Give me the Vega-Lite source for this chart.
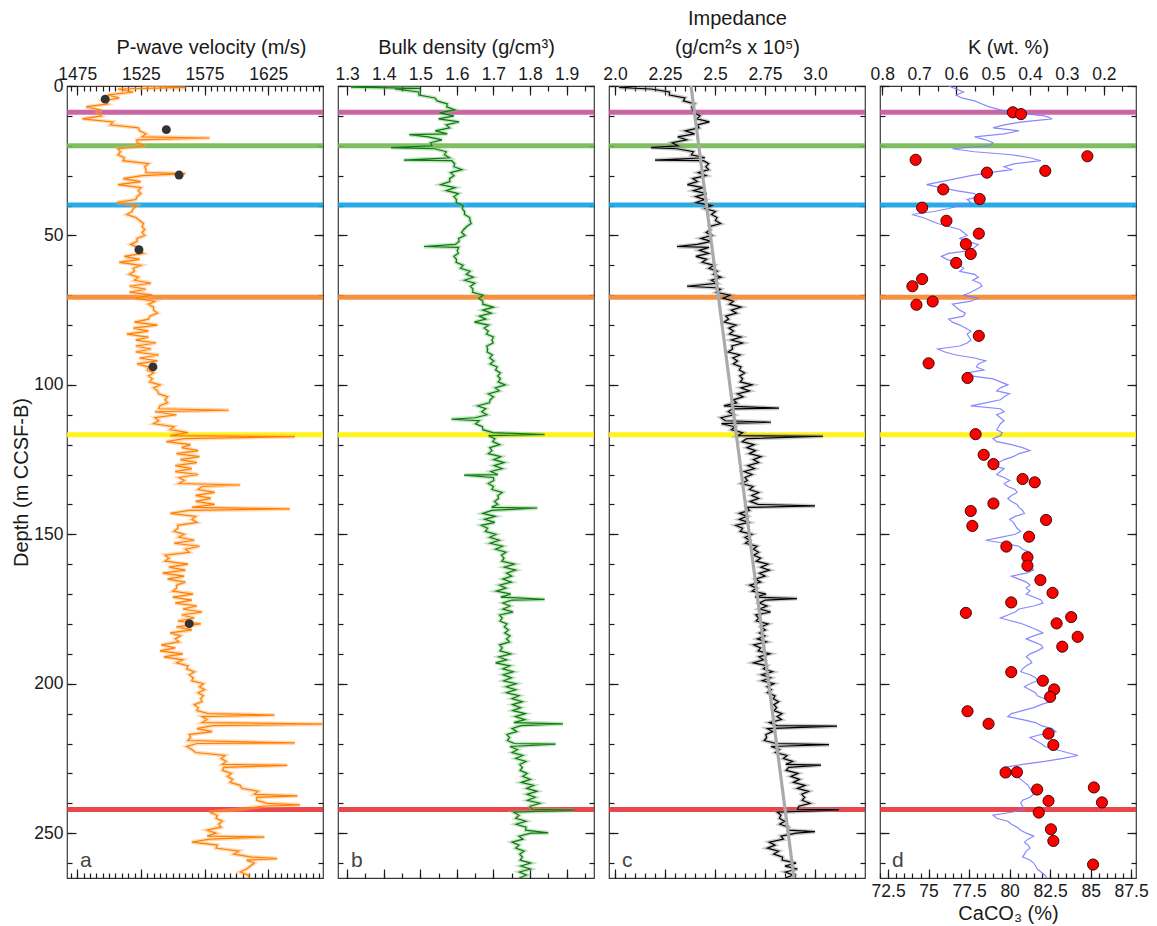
{
  "$schema": "https://vega.github.io/schema/vega-lite/v6.json",
  "padding": {"left": 11, "top": 7, "right": 5, "bottom": 5},
  "spacing": 15,
  "bounds": "flush",
  "config": {
    "font": "Liberation Sans",
    "view": {"stroke": "#3a3a3a", "strokeWidth": 1.2},
    "axis": {"domain": false, "grid": false, "labelFontSize": 17.5, "titleFontSize": 20, "titleFontWeight": "normal", "labelColor": "#1a1a1a", "titleColor": "#1a1a1a", "tickColor": "#1a1a1a", "tickWidth": 1.2, "labelFlush": false, "labelOverlap": false, "labelBound": false}
  },
  "datasets": {
    "bands": [{"d": 8.8, "h": "h1"}, {"d": 20, "h": "h2"}, {"d": 39.8, "h": "h3"}, {"d": 70.7, "h": "h4"}, {"d": 116.7, "h": "h5"}, {"d": 242.1, "h": "h6"}],
    "vp": [{"d":0,"v":1526},{"d":0.5,"v":1560},{"d":1,"v":1507},{"d":2,"v":1519},{"d":3,"v":1499},{"d":4,"v":1508},{"d":5,"v":1495},{"d":6,"v":1499},{"d":7,"v":1482},{"d":8,"v":1493},{"d":9,"v":1491},{"d":10,"v":1494},{"d":11,"v":1479},{"d":12,"v":1503},{"d":13,"v":1501},{"d":14,"v":1523},{"d":15,"v":1524},{"d":16,"v":1529},{"d":17,"v":1526},{"d":17.4,"v":1579},{"d":18,"v":1522},{"d":19,"v":1522},{"d":20,"v":1528},{"d":21,"v":1507},{"d":22,"v":1509},{"d":23,"v":1507},{"d":24,"v":1512},{"d":25,"v":1511},{"d":26,"v":1531},{"d":27,"v":1528},{"d":28,"v":1529},{"d":29,"v":1529},{"d":29.3,"v":1560},{"d":30,"v":1526},{"d":31,"v":1511},{"d":32,"v":1525},{"d":33,"v":1507},{"d":34,"v":1525},{"d":35,"v":1523},{"d":36,"v":1525},{"d":37,"v":1522},{"d":38,"v":1521},{"d":39,"v":1506},{"d":40,"v":1522},{"d":41,"v":1519},{"d":42,"v":1518},{"d":43,"v":1514},{"d":44,"v":1521},{"d":45,"v":1524},{"d":46,"v":1527},{"d":47,"v":1526},{"d":48,"v":1528},{"d":49,"v":1526},{"d":50,"v":1528},{"d":51,"v":1522},{"d":52,"v":1522},{"d":53,"v":1517},{"d":54,"v":1523},{"d":55,"v":1523},{"d":56,"v":1527},{"d":57,"v":1512},{"d":58,"v":1524},{"d":59,"v":1508},{"d":60,"v":1525},{"d":61,"v":1519},{"d":62,"v":1520},{"d":63,"v":1516},{"d":64,"v":1523},{"d":65,"v":1520},{"d":66,"v":1533},{"d":67,"v":1516},{"d":68,"v":1529},{"d":69,"v":1516},{"d":70,"v":1534},{"d":71,"v":1520},{"d":72,"v":1536},{"d":73,"v":1531},{"d":74,"v":1535},{"d":75,"v":1535},{"d":76,"v":1538},{"d":77,"v":1532},{"d":78,"v":1531},{"d":79,"v":1520},{"d":80,"v":1538},{"d":81,"v":1519},{"d":82,"v":1531},{"d":83,"v":1514},{"d":84,"v":1531},{"d":85,"v":1521},{"d":86,"v":1537},{"d":87,"v":1521},{"d":88,"v":1533},{"d":89,"v":1521},{"d":90,"v":1539},{"d":91,"v":1524},{"d":92,"v":1538},{"d":93,"v":1522},{"d":94,"v":1531},{"d":95,"v":1530},{"d":96,"v":1535},{"d":97,"v":1531},{"d":98,"v":1534},{"d":99,"v":1532},{"d":100,"v":1540},{"d":101,"v":1535},{"d":102,"v":1538},{"d":103,"v":1539},{"d":104,"v":1546},{"d":105,"v":1544},{"d":106,"v":1546},{"d":107,"v":1540},{"d":108,"v":1539},{"d":108.5,"v":1594},{"d":109,"v":1536},{"d":110,"v":1553},{"d":111,"v":1536},{"d":112,"v":1539},{"d":113,"v":1535},{"d":114,"v":1551},{"d":115,"v":1548},{"d":116,"v":1562},{"d":117,"v":1548},{"d":117.3,"v":1646},{"d":118,"v":1559},{"d":119,"v":1545},{"d":120,"v":1564},{"d":121,"v":1557},{"d":122,"v":1570},{"d":123,"v":1553},{"d":124,"v":1571},{"d":125,"v":1556},{"d":126,"v":1569},{"d":127,"v":1552},{"d":128,"v":1565},{"d":129,"v":1552},{"d":130,"v":1570},{"d":131,"v":1555},{"d":132,"v":1559},{"d":133,"v":1555},{"d":133.5,"v":1603},{"d":134,"v":1573},{"d":135,"v":1570},{"d":136,"v":1583},{"d":137,"v":1568},{"d":138,"v":1580},{"d":139,"v":1568},{"d":140,"v":1583},{"d":141,"v":1565},{"d":141.5,"v":1642},{"d":142,"v":1563},{"d":143,"v":1548},{"d":144,"v":1568},{"d":145,"v":1565},{"d":146,"v":1569},{"d":147,"v":1554},{"d":148,"v":1554},{"d":149,"v":1551},{"d":150,"v":1559},{"d":151,"v":1555},{"d":152,"v":1567},{"d":153,"v":1551},{"d":154,"v":1571},{"d":155,"v":1560},{"d":156,"v":1563},{"d":157,"v":1544},{"d":158,"v":1547},{"d":159,"v":1544},{"d":160,"v":1562},{"d":161,"v":1547},{"d":162,"v":1560},{"d":163,"v":1542},{"d":164,"v":1559},{"d":165,"v":1546},{"d":166,"v":1560},{"d":167,"v":1553},{"d":168,"v":1553},{"d":169,"v":1550},{"d":170,"v":1566},{"d":171,"v":1550},{"d":172,"v":1565},{"d":173,"v":1552},{"d":174,"v":1569},{"d":175,"v":1558},{"d":176,"v":1573},{"d":177,"v":1557},{"d":178,"v":1567},{"d":179,"v":1554},{"d":180,"v":1572},{"d":181,"v":1553},{"d":182,"v":1565},{"d":183,"v":1548},{"d":184,"v":1556},{"d":185,"v":1552},{"d":186,"v":1555},{"d":187,"v":1541},{"d":188,"v":1552},{"d":189,"v":1540},{"d":190,"v":1558},{"d":191,"v":1543},{"d":192,"v":1558},{"d":193,"v":1553},{"d":194,"v":1562},{"d":195,"v":1561},{"d":196,"v":1567},{"d":197,"v":1563},{"d":198,"v":1566},{"d":199,"v":1565},{"d":200,"v":1574},{"d":201,"v":1571},{"d":202,"v":1575},{"d":203,"v":1570},{"d":204,"v":1574},{"d":205,"v":1572},{"d":206,"v":1573},{"d":207,"v":1567},{"d":208,"v":1570},{"d":209,"v":1569},{"d":210,"v":1578},{"d":210.5,"v":1630},{"d":211,"v":1573},{"d":212,"v":1577},{"d":213,"v":1573},{"d":213.5,"v":1675},{"d":214,"v":1581},{"d":215,"v":1569},{"d":216,"v":1581},{"d":217,"v":1563},{"d":218,"v":1564},{"d":219,"v":1562},{"d":219.8,"v":1646},{"d":220,"v":1569},{"d":221,"v":1561},{"d":222,"v":1565},{"d":223,"v":1568},{"d":224,"v":1591},{"d":225,"v":1588},{"d":226,"v":1592},{"d":227,"v":1589},{"d":227.3,"v":1640},{"d":228,"v":1590},{"d":229,"v":1589},{"d":230,"v":1596},{"d":231,"v":1593},{"d":232,"v":1597},{"d":233,"v":1595},{"d":234,"v":1603},{"d":235,"v":1604},{"d":236,"v":1617},{"d":237,"v":1614},{"d":237.5,"v":1648},{"d":238,"v":1616},{"d":239,"v":1616},{"d":240,"v":1624},{"d":240.5,"v":1650},{"d":241,"v":1620},{"d":242,"v":1603},{"d":243,"v":1579},{"d":244,"v":1585},{"d":245,"v":1584},{"d":246,"v":1589},{"d":247,"v":1586},{"d":248,"v":1588},{"d":249,"v":1577},{"d":250,"v":1584},{"d":251,"v":1577},{"d":251.3,"v":1622},{"d":252,"v":1579},{"d":253,"v":1565},{"d":254,"v":1585},{"d":255,"v":1584},{"d":256,"v":1602},{"d":257,"v":1598},{"d":258,"v":1612},{"d":258.5,"v":1632},{"d":259,"v":1608},{"d":260,"v":1614},{"d":261,"v":1611},{"d":262,"v":1608},{"d":263,"v":1603},{"d":264,"v":1609},{"d":265,"v":1610}],
    "vpdots": [{"d":4.4,"v":1497},{"d":14.6,"v":1545},{"d":29.8,"v":1555},{"d":54.8,"v":1523.5},{"d":94,"v":1534.5},{"d":179.9,"v":1563}],
    "rho": [{"d":0,"v":1.392},{"d":0.4,"v":1.31},{"d":0.8,"v":1.5},{"d":1,"v":1.43},{"d":2,"v":1.496},{"d":3,"v":1.496},{"d":4,"v":1.54},{"d":5,"v":1.546},{"d":6,"v":1.574},{"d":7,"v":1.572},{"d":8,"v":1.594},{"d":9,"v":1.553},{"d":10,"v":1.592},{"d":11,"v":1.55},{"d":12,"v":1.606},{"d":13,"v":1.571},{"d":14,"v":1.58},{"d":15,"v":1.541},{"d":16,"v":1.574},{"d":16.3,"v":1.47},{"d":17,"v":1.522},{"d":18,"v":1.559},{"d":19,"v":1.528},{"d":20,"v":1.532},{"d":20.6,"v":1.42},{"d":21,"v":1.54},{"d":22,"v":1.571},{"d":23,"v":1.566},{"d":24,"v":1.58},{"d":24.8,"v":1.455},{"d":25,"v":1.586},{"d":26,"v":1.594},{"d":27,"v":1.592},{"d":28,"v":1.614},{"d":29,"v":1.583},{"d":30,"v":1.592},{"d":31,"v":1.58},{"d":32,"v":1.581},{"d":33,"v":1.556},{"d":34,"v":1.595},{"d":35,"v":1.571},{"d":36,"v":1.604},{"d":37,"v":1.592},{"d":38,"v":1.599},{"d":39,"v":1.598},{"d":40,"v":1.617},{"d":41,"v":1.615},{"d":42,"v":1.621},{"d":43,"v":1.621},{"d":44,"v":1.635},{"d":45,"v":1.636},{"d":46,"v":1.639},{"d":47,"v":1.627},{"d":48,"v":1.619},{"d":49,"v":1.613},{"d":50,"v":1.622},{"d":51,"v":1.605},{"d":52,"v":1.606},{"d":53,"v":1.596},{"d":53.7,"v":1.51},{"d":54,"v":1.605},{"d":55,"v":1.601},{"d":56,"v":1.604},{"d":57,"v":1.592},{"d":58,"v":1.599},{"d":59,"v":1.598},{"d":60,"v":1.617},{"d":61,"v":1.61},{"d":62,"v":1.636},{"d":63,"v":1.626},{"d":64,"v":1.645},{"d":65,"v":1.621},{"d":66,"v":1.649},{"d":67,"v":1.637},{"d":68,"v":1.644},{"d":69,"v":1.643},{"d":70,"v":1.672},{"d":71,"v":1.66},{"d":72,"v":1.671},{"d":73,"v":1.671},{"d":74,"v":1.7},{"d":75,"v":1.671},{"d":76,"v":1.694},{"d":77,"v":1.662},{"d":78,"v":1.679},{"d":79,"v":1.648},{"d":80,"v":1.687},{"d":81,"v":1.675},{"d":82,"v":1.686},{"d":83,"v":1.681},{"d":84,"v":1.7},{"d":85,"v":1.696},{"d":86,"v":1.699},{"d":87,"v":1.682},{"d":88,"v":1.684},{"d":89,"v":1.683},{"d":90,"v":1.697},{"d":91,"v":1.69},{"d":92,"v":1.701},{"d":93,"v":1.691},{"d":94,"v":1.71},{"d":95,"v":1.706},{"d":96,"v":1.719},{"d":97,"v":1.712},{"d":98,"v":1.719},{"d":99,"v":1.713},{"d":100,"v":1.732},{"d":101,"v":1.705},{"d":102,"v":1.716},{"d":103,"v":1.686},{"d":104,"v":1.7},{"d":105,"v":1.691},{"d":106,"v":1.689},{"d":107,"v":1.657},{"d":108,"v":1.679},{"d":109,"v":1.668},{"d":110,"v":1.682},{"d":111,"v":1.65},{"d":111.5,"v":1.585},{"d":112,"v":1.661},{"d":113,"v":1.651},{"d":114,"v":1.67},{"d":115,"v":1.671},{"d":116,"v":1.699},{"d":116.6,"v":1.84},{"d":117,"v":1.687},{"d":118,"v":1.704},{"d":119,"v":1.698},{"d":120,"v":1.717},{"d":121,"v":1.69},{"d":122,"v":1.696},{"d":123,"v":1.686},{"d":124,"v":1.72},{"d":125,"v":1.701},{"d":126,"v":1.729},{"d":127,"v":1.702},{"d":128,"v":1.724},{"d":129,"v":1.693},{"d":130,"v":1.712},{"d":130.2,"v":1.62},{"d":131,"v":1.7},{"d":132,"v":1.701},{"d":133,"v":1.686},{"d":134,"v":1.7},{"d":135,"v":1.696},{"d":136,"v":1.724},{"d":137,"v":1.712},{"d":138,"v":1.714},{"d":139,"v":1.703},{"d":140,"v":1.712},{"d":141,"v":1.695},{"d":141.2,"v":1.82},{"d":142,"v":1.696},{"d":143,"v":1.671},{"d":144,"v":1.705},{"d":145,"v":1.676},{"d":146,"v":1.704},{"d":147,"v":1.667},{"d":148,"v":1.684},{"d":149,"v":1.678},{"d":150,"v":1.707},{"d":151,"v":1.69},{"d":152,"v":1.716},{"d":153,"v":1.691},{"d":154,"v":1.725},{"d":155,"v":1.706},{"d":156,"v":1.734},{"d":157,"v":1.722},{"d":158,"v":1.729},{"d":159,"v":1.723},{"d":160,"v":1.757},{"d":161,"v":1.73},{"d":162,"v":1.761},{"d":163,"v":1.736},{"d":164,"v":1.75},{"d":165,"v":1.726},{"d":166,"v":1.749},{"d":167,"v":1.717},{"d":168,"v":1.734},{"d":169,"v":1.708},{"d":170,"v":1.747},{"d":171,"v":1.72},{"d":171.8,"v":1.84},{"d":172,"v":1.751},{"d":173,"v":1.726},{"d":174,"v":1.745},{"d":175,"v":1.726},{"d":176,"v":1.754},{"d":177,"v":1.717},{"d":178,"v":1.724},{"d":179,"v":1.718},{"d":180,"v":1.737},{"d":181,"v":1.73},{"d":182,"v":1.741},{"d":183,"v":1.731},{"d":184,"v":1.745},{"d":185,"v":1.736},{"d":186,"v":1.744},{"d":187,"v":1.717},{"d":188,"v":1.724},{"d":189,"v":1.718},{"d":190,"v":1.747},{"d":191,"v":1.715},{"d":192,"v":1.736},{"d":193,"v":1.706},{"d":194,"v":1.745},{"d":195,"v":1.726},{"d":196,"v":1.754},{"d":197,"v":1.727},{"d":198,"v":1.749},{"d":199,"v":1.728},{"d":200,"v":1.762},{"d":201,"v":1.735},{"d":202,"v":1.761},{"d":203,"v":1.736},{"d":204,"v":1.77},{"d":205,"v":1.751},{"d":206,"v":1.779},{"d":207,"v":1.752},{"d":208,"v":1.774},{"d":209,"v":1.753},{"d":210,"v":1.787},{"d":211,"v":1.76},{"d":212,"v":1.786},{"d":213,"v":1.756},{"d":213.4,"v":1.89},{"d":214,"v":1.775},{"d":215,"v":1.751},{"d":216,"v":1.764},{"d":217,"v":1.737},{"d":218,"v":1.744},{"d":219,"v":1.738},{"d":220,"v":1.757},{"d":220.2,"v":1.87},{"d":221,"v":1.745},{"d":222,"v":1.766},{"d":223,"v":1.751},{"d":224,"v":1.78},{"d":225,"v":1.761},{"d":226,"v":1.789},{"d":227,"v":1.772},{"d":228,"v":1.779},{"d":229,"v":1.773},{"d":230,"v":1.792},{"d":231,"v":1.78},{"d":232,"v":1.801},{"d":233,"v":1.776},{"d":234,"v":1.81},{"d":235,"v":1.791},{"d":236,"v":1.819},{"d":237,"v":1.792},{"d":238,"v":1.814},{"d":239,"v":1.793},{"d":240,"v":1.827},{"d":241,"v":1.8},{"d":242,"v":1.806},{"d":242.3,"v":1.92},{"d":243,"v":1.756},{"d":244,"v":1.77},{"d":245,"v":1.761},{"d":246,"v":1.789},{"d":247,"v":1.762},{"d":248,"v":1.789},{"d":249,"v":1.788},{"d":249.9,"v":1.85},{"d":250,"v":1.802},{"d":251,"v":1.77},{"d":252,"v":1.781},{"d":253,"v":1.751},{"d":254,"v":1.77},{"d":255,"v":1.761},{"d":256,"v":1.784},{"d":257,"v":1.772},{"d":258,"v":1.779},{"d":259,"v":1.773},{"d":260,"v":1.802},{"d":261,"v":1.775},{"d":262,"v":1.801},{"d":263,"v":1.771},{"d":264,"v":1.79},{"d":265,"v":1.771}],
    "imp": [{"d":0,"v":2.125},{"d":0.5,"v":2.02},{"d":1,"v":2.18},{"d":2,"v":2.272},{"d":3,"v":2.272},{"d":4,"v":2.35},{"d":5,"v":2.342},{"d":6,"v":2.398},{"d":7,"v":2.384},{"d":8,"v":2.388},{"d":9,"v":2.396},{"d":10,"v":2.425},{"d":11,"v":2.41},{"d":12,"v":2.472},{"d":13,"v":2.412},{"d":14,"v":2.42},{"d":15,"v":2.352},{"d":16,"v":2.398},{"d":17,"v":2.314},{"d":18,"v":2.358},{"d":19,"v":2.286},{"d":20,"v":2.315},{"d":20.6,"v":2.18},{"d":21,"v":2.31},{"d":22,"v":2.392},{"d":23,"v":2.382},{"d":24,"v":2.45},{"d":24.8,"v":2.2},{"d":25,"v":2.442},{"d":26,"v":2.468},{"d":27,"v":2.454},{"d":28,"v":2.468},{"d":29,"v":2.416},{"d":30,"v":2.455},{"d":31,"v":2.39},{"d":32,"v":2.412},{"d":33,"v":2.362},{"d":34,"v":2.44},{"d":35,"v":2.392},{"d":36,"v":2.458},{"d":37,"v":2.404},{"d":38,"v":2.448},{"d":39,"v":2.406},{"d":40,"v":2.485},{"d":41,"v":2.45},{"d":42,"v":2.502},{"d":43,"v":2.482},{"d":44,"v":2.51},{"d":45,"v":2.502},{"d":46,"v":2.528},{"d":47,"v":2.474},{"d":48,"v":2.478},{"d":49,"v":2.456},{"d":50,"v":2.485},{"d":51,"v":2.43},{"d":52,"v":2.482},{"d":53,"v":2.412},{"d":53.7,"v":2.31},{"d":54,"v":2.47},{"d":55,"v":2.422},{"d":56,"v":2.468},{"d":57,"v":2.404},{"d":58,"v":2.458},{"d":59,"v":2.436},{"d":60,"v":2.495},{"d":61,"v":2.47},{"d":62,"v":2.512},{"d":63,"v":2.492},{"d":64,"v":2.53},{"d":65,"v":2.482},{"d":66,"v":2.508},{"d":67,"v":2.36},{"d":67.5,"v":2.5},{"d":68,"v":2.528},{"d":69,"v":2.506},{"d":70,"v":2.575},{"d":71,"v":2.54},{"d":72,"v":2.592},{"d":73,"v":2.572},{"d":74,"v":2.63},{"d":75,"v":2.582},{"d":76,"v":2.608},{"d":77,"v":2.554},{"d":78,"v":2.568},{"d":79,"v":2.546},{"d":80,"v":2.605},{"d":81,"v":2.57},{"d":82,"v":2.592},{"d":83,"v":2.572},{"d":84,"v":2.63},{"d":85,"v":2.582},{"d":86,"v":2.638},{"d":87,"v":2.584},{"d":88,"v":2.588},{"d":89,"v":2.566},{"d":90,"v":2.625},{"d":91,"v":2.59},{"d":92,"v":2.612},{"d":93,"v":2.592},{"d":94,"v":2.63},{"d":95,"v":2.622},{"d":96,"v":2.648},{"d":97,"v":2.624},{"d":98,"v":2.638},{"d":99,"v":2.626},{"d":100,"v":2.685},{"d":101,"v":2.63},{"d":102,"v":2.672},{"d":103,"v":2.612},{"d":104,"v":2.64},{"d":105,"v":2.592},{"d":106,"v":2.608},{"d":107,"v":2.544},{"d":107.8,"v":2.82},{"d":108,"v":2.588},{"d":109,"v":2.566},{"d":110,"v":2.595},{"d":111,"v":2.53},{"d":112,"v":2.552},{"d":112.5,"v":2.78},{"d":113,"v":2.532},{"d":114,"v":2.6},{"d":115,"v":2.582},{"d":116,"v":2.638},{"d":117,"v":2.614},{"d":117.2,"v":3.04},{"d":118,"v":2.658},{"d":119,"v":2.636},{"d":120,"v":2.695},{"d":121,"v":2.66},{"d":122,"v":2.702},{"d":123,"v":2.672},{"d":124,"v":2.73},{"d":125,"v":2.692},{"d":126,"v":2.718},{"d":127,"v":2.664},{"d":128,"v":2.698},{"d":129,"v":2.646},{"d":130,"v":2.685},{"d":131,"v":2.65},{"d":132,"v":2.662},{"d":133,"v":2.632},{"d":134,"v":2.69},{"d":135,"v":2.672},{"d":136,"v":2.718},{"d":137,"v":2.684},{"d":138,"v":2.718},{"d":139,"v":2.676},{"d":140,"v":2.715},{"d":140.5,"v":3.0},{"d":141,"v":2.66},{"d":142,"v":2.672},{"d":143,"v":2.622},{"d":144,"v":2.66},{"d":145,"v":2.622},{"d":146,"v":2.668},{"d":147,"v":2.604},{"d":148,"v":2.638},{"d":149,"v":2.626},{"d":150,"v":2.685},{"d":151,"v":2.65},{"d":152,"v":2.672},{"d":153,"v":2.652},{"d":154,"v":2.71},{"d":155,"v":2.692},{"d":156,"v":2.718},{"d":157,"v":2.694},{"d":158,"v":2.728},{"d":159,"v":2.706},{"d":160,"v":2.765},{"d":161,"v":2.73},{"d":162,"v":2.772},{"d":163,"v":2.722},{"d":164,"v":2.75},{"d":165,"v":2.702},{"d":166,"v":2.728},{"d":167,"v":2.674},{"d":168,"v":2.708},{"d":169,"v":2.686},{"d":170,"v":2.755},{"d":171,"v":2.7},{"d":171.5,"v":2.91},{"d":172,"v":2.752},{"d":173,"v":2.722},{"d":174,"v":2.76},{"d":175,"v":2.722},{"d":176,"v":2.778},{"d":177,"v":2.704},{"d":178,"v":2.718},{"d":179,"v":2.706},{"d":180,"v":2.765},{"d":181,"v":2.73},{"d":182,"v":2.752},{"d":183,"v":2.722},{"d":184,"v":2.75},{"d":185,"v":2.712},{"d":186,"v":2.758},{"d":187,"v":2.694},{"d":188,"v":2.728},{"d":189,"v":2.716},{"d":190,"v":2.775},{"d":191,"v":2.72},{"d":192,"v":2.742},{"d":193,"v":2.692},{"d":194,"v":2.76},{"d":195,"v":2.742},{"d":196,"v":2.788},{"d":197,"v":2.734},{"d":198,"v":2.778},{"d":199,"v":2.736},{"d":200,"v":2.795},{"d":201,"v":2.76},{"d":202,"v":2.782},{"d":203,"v":2.762},{"d":204,"v":2.8},{"d":205,"v":2.792},{"d":206,"v":2.818},{"d":207,"v":2.794},{"d":208,"v":2.808},{"d":209,"v":2.796},{"d":210,"v":2.835},{"d":211,"v":2.81},{"d":212,"v":2.832},{"d":213,"v":2.772},{"d":214,"v":2.81},{"d":214.2,"v":3.11},{"d":215,"v":2.762},{"d":216,"v":2.788},{"d":217,"v":2.754},{"d":218,"v":2.758},{"d":219,"v":2.746},{"d":220,"v":2.805},{"d":220.4,"v":3.07},{"d":221,"v":2.78},{"d":222,"v":2.822},{"d":223,"v":2.802},{"d":224,"v":2.86},{"d":225,"v":2.842},{"d":226,"v":2.888},{"d":227,"v":2.854},{"d":227.2,"v":3.03},{"d":228,"v":2.868},{"d":229,"v":2.856},{"d":230,"v":2.915},{"d":231,"v":2.88},{"d":232,"v":2.922},{"d":233,"v":2.892},{"d":234,"v":2.95},{"d":235,"v":2.912},{"d":236,"v":2.968},{"d":237,"v":2.934},{"d":238,"v":2.948},{"d":239,"v":2.936},{"d":240,"v":2.975},{"d":241,"v":2.92},{"d":242,"v":2.912},{"d":242.2,"v":3.12},{"d":243,"v":2.812},{"d":244,"v":2.83},{"d":245,"v":2.822},{"d":246,"v":2.848},{"d":247,"v":2.824},{"d":248,"v":2.868},{"d":249,"v":2.866},{"d":249.5,"v":3.0},{"d":250,"v":2.905},{"d":251,"v":2.83},{"d":252,"v":2.842},{"d":253,"v":2.772},{"d":254,"v":2.8},{"d":255,"v":2.762},{"d":256,"v":2.818},{"d":257,"v":2.794},{"d":258,"v":2.838},{"d":259,"v":2.836},{"d":260,"v":2.905},{"d":261,"v":2.85},{"d":262,"v":2.912},{"d":263,"v":2.852},{"d":264,"v":2.89},{"d":265,"v":2.852}],
    "trend": [{"d": 0, "v": 2.38}, {"d": 265, "v": 2.895}],
    "k": [{"d":0,"v":0.62},{"d":1,"v":0.6},{"d":2,"v":0.58},{"d":3,"v":0.6},{"d":4,"v":0.585},{"d":5,"v":0.55},{"d":6,"v":0.53},{"d":7,"v":0.51},{"d":8,"v":0.48},{"d":9,"v":0.44},{"d":10,"v":0.36},{"d":11,"v":0.34},{"d":12,"v":0.42},{"d":13,"v":0.47},{"d":14,"v":0.5},{"d":15,"v":0.43},{"d":16,"v":0.47},{"d":17,"v":0.55},{"d":18,"v":0.52},{"d":19,"v":0.5},{"d":20,"v":0.51},{"d":21,"v":0.61},{"d":22,"v":0.55},{"d":23,"v":0.45},{"d":24,"v":0.4},{"d":25,"v":0.37},{"d":26,"v":0.44},{"d":27,"v":0.47},{"d":28,"v":0.45},{"d":29,"v":0.51},{"d":30,"v":0.56},{"d":31,"v":0.6},{"d":32,"v":0.64},{"d":33,"v":0.68},{"d":34,"v":0.64},{"d":35,"v":0.6},{"d":36,"v":0.55},{"d":37,"v":0.54},{"d":38,"v":0.57},{"d":39,"v":0.56},{"d":40,"v":0.59},{"d":41,"v":0.62},{"d":42,"v":0.66},{"d":43,"v":0.72},{"d":44,"v":0.69},{"d":45,"v":0.67},{"d":46,"v":0.65},{"d":47,"v":0.62},{"d":48,"v":0.59},{"d":49,"v":0.58},{"d":50,"v":0.57},{"d":51,"v":0.59},{"d":52,"v":0.57},{"d":53,"v":0.54},{"d":54,"v":0.55},{"d":55,"v":0.56},{"d":56,"v":0.62},{"d":57,"v":0.64},{"d":58,"v":0.625},{"d":59,"v":0.6},{"d":60,"v":0.59},{"d":61,"v":0.58},{"d":62,"v":0.59},{"d":63,"v":0.55},{"d":64,"v":0.54},{"d":65,"v":0.555},{"d":66,"v":0.535},{"d":67,"v":0.53},{"d":68,"v":0.545},{"d":69,"v":0.56},{"d":70,"v":0.58},{"d":71,"v":0.54},{"d":72,"v":0.56},{"d":73,"v":0.61},{"d":74,"v":0.6},{"d":75,"v":0.59},{"d":76,"v":0.575},{"d":77,"v":0.58},{"d":78,"v":0.62},{"d":79,"v":0.61},{"d":80,"v":0.59},{"d":81,"v":0.575},{"d":82,"v":0.56},{"d":83,"v":0.57},{"d":84,"v":0.565},{"d":85,"v":0.56},{"d":86,"v":0.57},{"d":87,"v":0.59},{"d":88,"v":0.65},{"d":89,"v":0.63},{"d":90,"v":0.6},{"d":91,"v":0.55},{"d":92,"v":0.52},{"d":93,"v":0.54},{"d":94,"v":0.545},{"d":95,"v":0.525},{"d":96,"v":0.57},{"d":97,"v":0.56},{"d":98,"v":0.5},{"d":99,"v":0.48},{"d":100,"v":0.46},{"d":101,"v":0.48},{"d":102,"v":0.49},{"d":103,"v":0.455},{"d":104,"v":0.47},{"d":105,"v":0.48},{"d":106,"v":0.52},{"d":107,"v":0.56},{"d":108,"v":0.48},{"d":109,"v":0.47},{"d":110,"v":0.49},{"d":111,"v":0.48},{"d":112,"v":0.47},{"d":113,"v":0.48},{"d":114,"v":0.485},{"d":115,"v":0.49},{"d":116,"v":0.475},{"d":117,"v":0.48},{"d":118,"v":0.5},{"d":119,"v":0.49},{"d":120,"v":0.45},{"d":121,"v":0.42},{"d":122,"v":0.4},{"d":123,"v":0.43},{"d":124,"v":0.445},{"d":125,"v":0.47},{"d":126,"v":0.485},{"d":127,"v":0.5},{"d":128,"v":0.47},{"d":129,"v":0.48},{"d":130,"v":0.49},{"d":131,"v":0.47},{"d":132,"v":0.455},{"d":133,"v":0.47},{"d":134,"v":0.46},{"d":135,"v":0.44},{"d":136,"v":0.435},{"d":137,"v":0.45},{"d":138,"v":0.46},{"d":139,"v":0.45},{"d":140,"v":0.435},{"d":141,"v":0.43},{"d":142,"v":0.42},{"d":143,"v":0.415},{"d":144,"v":0.44},{"d":145,"v":0.455},{"d":146,"v":0.445},{"d":147,"v":0.44},{"d":148,"v":0.435},{"d":149,"v":0.425},{"d":150,"v":0.44},{"d":151,"v":0.48},{"d":152,"v":0.52},{"d":153,"v":0.47},{"d":154,"v":0.43},{"d":155,"v":0.42},{"d":156,"v":0.4},{"d":157,"v":0.405},{"d":158,"v":0.41},{"d":159,"v":0.4},{"d":160,"v":0.415},{"d":161,"v":0.4},{"d":162,"v":0.39},{"d":163,"v":0.41},{"d":164,"v":0.45},{"d":165,"v":0.43},{"d":166,"v":0.41},{"d":167,"v":0.4},{"d":168,"v":0.41},{"d":169,"v":0.4},{"d":170,"v":0.41},{"d":171,"v":0.39},{"d":172,"v":0.37},{"d":173,"v":0.365},{"d":174,"v":0.39},{"d":175,"v":0.43},{"d":176,"v":0.44},{"d":177,"v":0.46},{"d":178,"v":0.48},{"d":179,"v":0.45},{"d":180,"v":0.42},{"d":181,"v":0.4},{"d":182,"v":0.38},{"d":183,"v":0.365},{"d":184,"v":0.39},{"d":185,"v":0.41},{"d":186,"v":0.39},{"d":187,"v":0.37},{"d":188,"v":0.365},{"d":189,"v":0.38},{"d":190,"v":0.4},{"d":191,"v":0.41},{"d":192,"v":0.4},{"d":193,"v":0.395},{"d":194,"v":0.41},{"d":195,"v":0.42},{"d":196,"v":0.425},{"d":197,"v":0.4},{"d":198,"v":0.385},{"d":199,"v":0.38},{"d":200,"v":0.4},{"d":201,"v":0.415},{"d":202,"v":0.4},{"d":203,"v":0.385},{"d":204,"v":0.38},{"d":205,"v":0.36},{"d":206,"v":0.345},{"d":207,"v":0.37},{"d":208,"v":0.39},{"d":209,"v":0.42},{"d":210,"v":0.45},{"d":211,"v":0.46},{"d":212,"v":0.42},{"d":213,"v":0.385},{"d":214,"v":0.37},{"d":215,"v":0.34},{"d":216,"v":0.33},{"d":217,"v":0.37},{"d":218,"v":0.4},{"d":219,"v":0.385},{"d":220,"v":0.37},{"d":221,"v":0.36},{"d":222,"v":0.33},{"d":223,"v":0.3},{"d":224,"v":0.27},{"d":225,"v":0.31},{"d":226,"v":0.36},{"d":227,"v":0.42},{"d":228,"v":0.47},{"d":229,"v":0.48},{"d":230,"v":0.455},{"d":231,"v":0.435},{"d":232,"v":0.425},{"d":233,"v":0.415},{"d":234,"v":0.405},{"d":235,"v":0.4},{"d":236,"v":0.395},{"d":237,"v":0.39},{"d":238,"v":0.4},{"d":239,"v":0.42},{"d":240,"v":0.425},{"d":241,"v":0.42},{"d":242,"v":0.415},{"d":243,"v":0.45},{"d":244,"v":0.5},{"d":245,"v":0.49},{"d":246,"v":0.46},{"d":247,"v":0.45},{"d":248,"v":0.435},{"d":249,"v":0.425},{"d":250,"v":0.41},{"d":251,"v":0.39},{"d":252,"v":0.405},{"d":253,"v":0.415},{"d":254,"v":0.405},{"d":255,"v":0.4},{"d":256,"v":0.41},{"d":257,"v":0.415},{"d":258,"v":0.42},{"d":259,"v":0.4},{"d":260,"v":0.39},{"d":261,"v":0.385},{"d":262,"v":0.38},{"d":263,"v":0.37},{"d":264,"v":0.36},{"d":265,"v":0.355}],
    "caco3": [{"d":8.8,"c":80.2},{"d":9.4,"c":80.7},{"d":24.7,"c":74.2},{"d":23.5,"c":84.8},{"d":29.0,"c":78.6},{"d":28.4,"c":82.2},{"d":34.6,"c":75.9},{"d":37.8,"c":78.15},{"d":40.7,"c":74.6},{"d":45.1,"c":76.1},{"d":49.4,"c":78.1},{"d":52.9,"c":77.3},{"d":56.2,"c":77.6},{"d":59.2,"c":76.7},{"d":64.6,"c":74.6},{"d":67.0,"c":74.0},{"d":72.1,"c":75.25},{"d":73.2,"c":74.25},{"d":83.6,"c":78.1},{"d":92.8,"c":75.0},{"d":97.7,"c":77.4},{"d":116.5,"c":77.9},{"d":123.4,"c":78.4},{"d":126.5,"c":79.0},{"d":131.5,"c":80.8},{"d":132.6,"c":81.55},{"d":139.7,"c":79.0},{"d":142.2,"c":77.6},{"d":147.2,"c":77.7},{"d":145.2,"c":82.25},{"d":150.8,"c":81.2},{"d":154.1,"c":79.8},{"d":157.7,"c":81.1},{"d":160.5,"c":81.1},{"d":165.3,"c":81.9},{"d":169.6,"c":82.65},{"d":172.8,"c":80.1},{"d":176.3,"c":77.3},{"d":177.7,"c":83.8},{"d":179.8,"c":82.9},{"d":184.3,"c":84.2},{"d":187.6,"c":83.25},{"d":196.1,"c":80.1},{"d":199.0,"c":82.05},{"d":201.9,"c":82.75},{"d":204.4,"c":82.5},{"d":209.2,"c":77.4},{"d":213.4,"c":78.7},{"d":216.7,"c":82.4},{"d":220.5,"c":82.7},{"d":229.7,"c":79.75},{"d":229.6,"c":80.45},{"d":235.4,"c":81.7},{"d":234.7,"c":85.2},{"d":239.2,"c":82.4},{"d":239.7,"c":85.7},{"d":243.1,"c":81.8},{"d":248.7,"c":82.55},{"d":252.6,"c":82.7},{"d":260.5,"c":85.15}]
  },
  "hconcat": [
    {
      "width": 256, "height": 792,
      "resolve": {"axis": {"x": "independent", "y": "independent"}},
      "layer": [
        {"data": {"name": "bands"}, "mark": {"type": "rule", "strokeWidth": 5, "opacity": 0.9},
         "encoding": {
           "x": {"datum": 1467, "type": "quantitative", "scale": {"domain": [1467, 1668], "nice": false, "zero": false},
                 "axis": {"orient": "top", "values": [1475, 1525, 1575, 1625], "format": "d", "tickSize": 9, "offset": -9, "labelPadding": 3, "title": "P-wave velocity (m/s)", "titlePadding": 8, "titleX": 144}},
           "x2": {"datum": 1668},
           "y": {"field": "d", "type": "quantitative", "scale": {"domain": [0, 265], "reverse": true, "nice": false, "zero": false},
                 "axis": {"orient": "left", "values": [0, 50, 100, 150, 200, 250], "tickSize": 9, "offset": -9, "labelPadding": 4, "title": "Depth (m CCSF-B)", "titlePadding": 2}},
           "color": {"field": "h", "type": "nominal", "scale": {"domain": ["h1", "h2", "h3", "h4", "h5", "h6"], "range": ["#c4559a", "#71b84f", "#12a3e3", "#f5852b", "#fff200", "#e5333b"]}, "legend": null}
         }},
        {"data": {"name": "vp"}, "mark": {"type": "line", "color": "#ffb066", "strokeWidth": 4, "opacity": 0.45, "clip": true},
         "encoding": {
           "x": {"field": "v", "type": "quantitative", "scale": {"domain": [1467, 1668], "nice": false, "zero": false},
                 "axis": {"orient": "top", "values": [1470,1475,1480,1485,1490,1495,1500,1505,1510,1515,1520,1525,1530,1535,1540,1545,1550,1555,1560,1565,1570,1575,1580,1585,1590,1595,1600,1605,1610,1615,1620,1625,1630,1635,1640,1645,1650,1655,1660,1665], "tickSize": 5, "offset": -5, "labels": false, "title": null}},
           "y": {"field": "d", "type": "quantitative", "scale": {"domain": [0, 265], "reverse": true, "nice": false, "zero": false},
                 "axis": {"orient": "left", "values": [0,10,20,30,40,50,60,70,80,90,100,110,120,130,140,150,160,170,180,190,200,210,220,230,240,250,260], "tickSize": 5, "offset": -5, "labels": false, "title": null}},
           "order": {"field": "d", "type": "quantitative"}
         }},
        {"data": {"name": "vp"}, "mark": {"type": "line", "color": "#ff8000", "strokeWidth": 1.2, "clip": true},
         "encoding": {
           "x": {"field": "v", "type": "quantitative", "scale": {"domain": [1467, 1668], "nice": false, "zero": false},
                 "axis": {"orient": "bottom", "values": [1475, 1525, 1575, 1625], "tickSize": 9, "offset": -9, "labels": false, "title": null}},
           "y": {"field": "d", "type": "quantitative", "scale": {"domain": [0, 265], "reverse": true, "nice": false, "zero": false},
                 "axis": {"orient": "right", "values": [0, 50, 100, 150, 200, 250], "tickSize": 9, "offset": -9, "labels": false, "title": null}},
           "order": {"field": "d", "type": "quantitative"}
         }},
        {"data": {"name": "vpdots"}, "mark": {"type": "circle", "color": "#333333", "size": 80, "opacity": 1},
         "encoding": {
           "x": {"field": "v", "type": "quantitative", "scale": {"domain": [1467, 1668], "nice": false, "zero": false},
                 "axis": {"orient": "bottom", "values": [1470,1475,1480,1485,1490,1495,1500,1505,1510,1515,1520,1525,1530,1535,1540,1545,1550,1555,1560,1565,1570,1575,1580,1585,1590,1595,1600,1605,1610,1615,1620,1625,1630,1635,1640,1645,1650,1655,1660,1665], "tickSize": 5, "offset": -5, "labels": false, "title": null}},
           "y": {"field": "d", "type": "quantitative", "scale": {"domain": [0, 265], "reverse": true, "nice": false, "zero": false},
                 "axis": {"orient": "right", "values": [0,10,20,30,40,50,60,70,80,90,100,110,120,130,140,150,160,170,180,190,200,210,220,230,240,250,260], "tickSize": 5, "offset": -5, "labels": false, "title": null}}
         }},
        {"data": {"values": [{"t": "a"}]}, "mark": {"type": "text", "align": "left", "baseline": "middle", "dx": 13, "fontSize": 21, "color": "#444444"},
         "encoding": {
           "x": {"datum": 1467, "type": "quantitative", "axis": null},
           "y": {"datum": 259.3, "type": "quantitative", "axis": null},
           "text": {"field": "t"}
         }}
      ]
    },
    {
      "width": 256, "height": 792,
      "resolve": {"axis": {"x": "independent", "y": "independent"}},
      "layer": [
        {"data": {"name": "bands"}, "mark": {"type": "rule", "strokeWidth": 5, "opacity": 0.9},
         "encoding": {
           "x": {"datum": 1.275, "type": "quantitative", "scale": {"domain": [1.275, 1.975], "nice": false, "zero": false},
                 "axis": {"orient": "top", "values": [1.3, 1.4, 1.5, 1.6, 1.7, 1.8, 1.9], "format": ".1f", "tickSize": 9, "offset": -9, "labelPadding": 3, "title": "Bulk density (g/cm³)", "titlePadding": 8}},
           "x2": {"datum": 1.975},
           "y": {"field": "d", "type": "quantitative", "scale": {"domain": [0, 265], "reverse": true, "nice": false, "zero": false},
                 "axis": {"orient": "left", "values": [0, 50, 100, 150, 200, 250], "tickSize": 9, "offset": -9, "labels": false, "title": null}},
           "color": {"field": "h", "type": "nominal", "scale": {"domain": ["h1", "h2", "h3", "h4", "h5", "h6"], "range": ["#c4559a", "#71b84f", "#12a3e3", "#f5852b", "#fff200", "#e5333b"]}, "legend": null}
         }},
        {"data": {"name": "rho"}, "mark": {"type": "line", "color": "#7cc47c", "strokeWidth": 4, "opacity": 0.45, "clip": true},
         "encoding": {
           "x": {"field": "v", "type": "quantitative", "scale": {"domain": [1.275, 1.975], "nice": false, "zero": false},
                 "axis": {"orient": "top", "values": [1.3,1.35,1.4,1.45,1.5,1.55,1.6,1.65,1.7,1.75,1.8,1.85,1.9,1.95], "tickSize": 5, "offset": -5, "labels": false, "title": null}},
           "y": {"field": "d", "type": "quantitative", "scale": {"domain": [0, 265], "reverse": true, "nice": false, "zero": false},
                 "axis": {"orient": "left", "values": [0,10,20,30,40,50,60,70,80,90,100,110,120,130,140,150,160,170,180,190,200,210,220,230,240,250,260], "tickSize": 5, "offset": -5, "labels": false, "title": null}},
           "order": {"field": "d", "type": "quantitative"}
         }},
        {"data": {"name": "rho"}, "mark": {"type": "line", "color": "#0c7a0c", "strokeWidth": 1.2, "clip": true},
         "encoding": {
           "x": {"field": "v", "type": "quantitative", "scale": {"domain": [1.275, 1.975], "nice": false, "zero": false},
                 "axis": {"orient": "bottom", "values": [1.3, 1.4, 1.5, 1.6, 1.7, 1.8, 1.9], "tickSize": 9, "offset": -9, "labels": false, "title": null}},
           "y": {"field": "d", "type": "quantitative", "scale": {"domain": [0, 265], "reverse": true, "nice": false, "zero": false},
                 "axis": {"orient": "right", "values": [0, 50, 100, 150, 200, 250], "tickSize": 9, "offset": -9, "labels": false, "title": null}},
           "order": {"field": "d", "type": "quantitative"}
         }},
        {"data": {"values": [{"t": "b"}]}, "mark": {"type": "text", "align": "left", "baseline": "middle", "dx": 13, "fontSize": 21, "color": "#444444"},
         "encoding": {
           "x": {"datum": 1.275, "type": "quantitative", "scale": {"domain": [1.275, 1.975], "nice": false, "zero": false},
                 "axis": {"orient": "bottom", "values": [1.3,1.35,1.4,1.45,1.5,1.55,1.6,1.65,1.7,1.75,1.8,1.85,1.9,1.95], "tickSize": 5, "offset": -5, "labels": false, "title": null}},
           "y": {"datum": 259.3, "type": "quantitative", "scale": {"domain": [0, 265], "reverse": true, "nice": false, "zero": false},
                 "axis": {"orient": "right", "values": [0,10,20,30,40,50,60,70,80,90,100,110,120,130,140,150,160,170,180,190,200,210,220,230,240,250,260], "tickSize": 5, "offset": -5, "labels": false, "title": null}},
           "text": {"field": "t"}
         }}
      ]
    },
    {
      "width": 256, "height": 792,
      "resolve": {"axis": {"x": "independent", "y": "independent"}},
      "layer": [
        {"data": {"name": "bands"}, "mark": {"type": "rule", "strokeWidth": 5, "opacity": 0.9},
         "encoding": {
           "x": {"datum": 1.97, "type": "quantitative", "scale": {"domain": [1.97, 3.25], "nice": false, "zero": false},
                 "axis": {"orient": "top", "values": [2, 2.25, 2.5, 2.75, 3], "labelExpr": "datum.value == 2 ? '2.0' : (datum.value == 3 ? '3.0' : format(datum.value, '.2~f'))", "tickSize": 9, "offset": -9, "labelPadding": 3, "title": ["Impedance", "(g/cm²s x 10⁵)"], "titleLineHeight": 29, "titlePadding": 8}},
           "x2": {"datum": 3.25},
           "y": {"field": "d", "type": "quantitative", "scale": {"domain": [0, 265], "reverse": true, "nice": false, "zero": false},
                 "axis": {"orient": "left", "values": [0, 50, 100, 150, 200, 250], "tickSize": 9, "offset": -9, "labels": false, "title": null}},
           "color": {"field": "h", "type": "nominal", "scale": {"domain": ["h1", "h2", "h3", "h4", "h5", "h6"], "range": ["#c4559a", "#71b84f", "#12a3e3", "#f5852b", "#fff200", "#e5333b"]}, "legend": null}
         }},
        {"data": {"name": "imp"}, "mark": {"type": "line", "color": "#8a8a8a", "strokeWidth": 4, "opacity": 0.45, "clip": true},
         "encoding": {
           "x": {"field": "v", "type": "quantitative", "scale": {"domain": [1.97, 3.25], "nice": false, "zero": false},
                 "axis": {"orient": "top", "values": [2,2.05,2.1,2.15,2.2,2.25,2.3,2.35,2.4,2.45,2.5,2.55,2.6,2.65,2.7,2.75,2.8,2.85,2.9,2.95,3,3.05,3.1,3.15,3.2], "tickSize": 5, "offset": -5, "labels": false, "title": null}},
           "y": {"field": "d", "type": "quantitative", "scale": {"domain": [0, 265], "reverse": true, "nice": false, "zero": false},
                 "axis": {"orient": "left", "values": [0,10,20,30,40,50,60,70,80,90,100,110,120,130,140,150,160,170,180,190,200,210,220,230,240,250,260], "tickSize": 5, "offset": -5, "labels": false, "title": null}},
           "order": {"field": "d", "type": "quantitative"}
         }},
        {"data": {"name": "imp"}, "mark": {"type": "line", "color": "#000000", "strokeWidth": 1.2, "clip": true},
         "encoding": {
           "x": {"field": "v", "type": "quantitative", "scale": {"domain": [1.97, 3.25], "nice": false, "zero": false},
                 "axis": {"orient": "bottom", "values": [2, 2.25, 2.5, 2.75, 3], "tickSize": 9, "offset": -9, "labels": false, "title": null}},
           "y": {"field": "d", "type": "quantitative", "scale": {"domain": [0, 265], "reverse": true, "nice": false, "zero": false},
                 "axis": {"orient": "right", "values": [0, 50, 100, 150, 200, 250], "tickSize": 9, "offset": -9, "labels": false, "title": null}},
           "order": {"field": "d", "type": "quantitative"}
         }},
        {"data": {"name": "trend"}, "mark": {"type": "line", "color": "#aaaaaa", "strokeWidth": 3.2},
         "encoding": {
           "x": {"field": "v", "type": "quantitative", "scale": {"domain": [1.97, 3.25], "nice": false, "zero": false},
                 "axis": {"orient": "bottom", "values": [2,2.05,2.1,2.15,2.2,2.25,2.3,2.35,2.4,2.45,2.5,2.55,2.6,2.65,2.7,2.75,2.8,2.85,2.9,2.95,3,3.05,3.1,3.15,3.2], "tickSize": 5, "offset": -5, "labels": false, "title": null}},
           "y": {"field": "d", "type": "quantitative", "scale": {"domain": [0, 265], "reverse": true, "nice": false, "zero": false},
                 "axis": {"orient": "right", "values": [0,10,20,30,40,50,60,70,80,90,100,110,120,130,140,150,160,170,180,190,200,210,220,230,240,250,260], "tickSize": 5, "offset": -5, "labels": false, "title": null}},
           "order": {"field": "d", "type": "quantitative"}
         }},
        {"data": {"values": [{"t": "c"}]}, "mark": {"type": "text", "align": "left", "baseline": "middle", "dx": 13, "fontSize": 21, "color": "#444444"},
         "encoding": {
           "x": {"datum": 1.97, "type": "quantitative", "axis": null},
           "y": {"datum": 259.3, "type": "quantitative", "axis": null},
           "text": {"field": "t"}
         }}
      ]
    },
    {
      "width": 256, "height": 792,
      "resolve": {"scale": {"x": "independent"}, "axis": {"x": "independent", "y": "independent"}},
      "layer": [
        {"data": {"name": "bands"}, "mark": {"type": "rule", "strokeWidth": 5, "opacity": 0.9},
         "encoding": {
           "x": {"datum": 0.806, "type": "quantitative", "scale": {"domain": [0.113, 0.806], "reverse": true, "nice": false, "zero": false},
                 "axis": {"orient": "top", "values": [0.8, 0.7, 0.6, 0.5, 0.4, 0.3, 0.2], "format": ".1f", "tickSize": 9, "offset": -9, "labelPadding": 3, "title": "K (wt. %)", "titlePadding": 8}},
           "x2": {"datum": 0.113},
           "y": {"field": "d", "type": "quantitative", "scale": {"domain": [0, 265], "reverse": true, "nice": false, "zero": false},
                 "axis": {"orient": "left", "values": [0, 50, 100, 150, 200, 250], "tickSize": 9, "offset": -9, "labels": false, "title": null}},
           "color": {"field": "h", "type": "nominal", "scale": {"domain": ["h1", "h2", "h3", "h4", "h5", "h6"], "range": ["#c4559a", "#71b84f", "#12a3e3", "#f5852b", "#fff200", "#e5333b"]}, "legend": null}
         }},
        {"data": {"name": "k"}, "mark": {"type": "line", "color": "#7b7bff", "strokeWidth": 1.2, "opacity": 0.9, "clip": true},
         "encoding": {
           "x": {"field": "v", "type": "quantitative", "scale": {"domain": [0.113, 0.806], "reverse": true, "nice": false, "zero": false},
                 "axis": {"orient": "top", "values": [0.8,0.75,0.7,0.65,0.6,0.55,0.5,0.45,0.4,0.35,0.3,0.25,0.2,0.15], "tickSize": 5, "offset": -5, "labels": false, "title": null}},
           "y": {"field": "d", "type": "quantitative", "scale": {"domain": [0, 265], "reverse": true, "nice": false, "zero": false},
                 "axis": {"orient": "left", "values": [0,10,20,30,40,50,60,70,80,90,100,110,120,130,140,150,160,170,180,190,200,210,220,230,240,250,260], "tickSize": 5, "offset": -5, "labels": false, "title": null}},
           "order": {"field": "d", "type": "quantitative"}
         }},
        {"data": {"name": "caco3"}, "mark": {"type": "point", "filled": true, "color": "#ff0000", "stroke": "#2a0000", "strokeWidth": 0.9, "size": 125, "opacity": 1},
         "encoding": {
           "x": {"field": "c", "type": "quantitative", "scale": {"domain": [72, 87.8], "nice": false, "zero": false},
                 "axis": {"orient": "bottom", "values": [72.5, 75, 77.5, 80, 82.5, 85, 87.5], "labelExpr": "format(datum.value, '.1~f')", "tickSize": 9, "offset": -9, "labelPadding": 4, "title": "CaCO₃ (%)", "titlePadding": 4}},
           "y": {"field": "d", "type": "quantitative", "scale": {"domain": [0, 265], "reverse": true, "nice": false, "zero": false},
                 "axis": {"orient": "right", "values": [0, 50, 100, 150, 200, 250], "tickSize": 9, "offset": -9, "labels": false, "title": null}}
         }},
        {"data": {"values": [{"t": "d"}]}, "mark": {"type": "text", "align": "left", "baseline": "middle", "dx": 12, "fontSize": 21, "color": "#444444"},
         "encoding": {
           "x": {"datum": 72, "type": "quantitative", "scale": {"domain": [72, 87.8], "nice": false, "zero": false},
                 "axis": {"orient": "bottom", "values": [72,72.5,73,73.5,74,74.5,75,75.5,76,76.5,77,77.5,78,78.5,79,79.5,80,80.5,81,81.5,82,82.5,83,83.5,84,84.5,85,85.5,86,86.5,87,87.5], "tickSize": 5, "offset": -5, "labels": false, "title": null}},
           "y": {"datum": 259.3, "type": "quantitative", "scale": {"domain": [0, 265], "reverse": true, "nice": false, "zero": false},
                 "axis": {"orient": "right", "values": [0,10,20,30,40,50,60,70,80,90,100,110,120,130,140,150,160,170,180,190,200,210,220,230,240,250,260], "tickSize": 5, "offset": -5, "labels": false, "title": null}},
           "text": {"field": "t"}
         }}
      ]
    }
  ]
}
